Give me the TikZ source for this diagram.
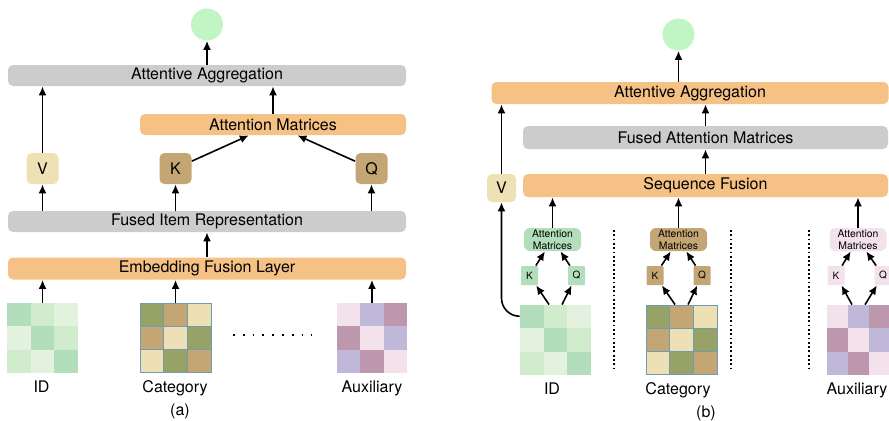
\documentclass[tikz,border=0pt]{standalone}
\usepackage{fontspec}
\setmainfont{TeX Gyre Heros}
\usetikzlibrary{arrows.meta,fit}
\definecolor{outGreen}{HTML}{C1F5C3}
\definecolor{barGray}{HTML}{CCCCCC}
\definecolor{barOrange}{HTML}{F5C184}
\definecolor{vCream}{HTML}{EEE1B6}
\definecolor{idDark}{HTML}{B3DEBB}
\definecolor{idMid}{HTML}{D1EBCD}
\definecolor{idLight}{HTML}{E3F2DF}
\definecolor{catOlive}{HTML}{97A366}
\definecolor{catTan}{HTML}{C3A673}
\definecolor{catCream}{HTML}{EDE0B4}
\definecolor{catEdge}{HTML}{6F9BB5}
\definecolor{auxPink}{HTML}{F3E1EC}
\definecolor{auxLav}{HTML}{BFB8D9}
\definecolor{auxMauve}{HTML}{BD97AE}
\tikzset{
  bar/.style = {rectangle, rounded corners=2.5pt, minimum height=10.5pt,
    inner sep=0pt, font=\fontsize{8}{9}\selectfont},
  graybar/.style = {bar, fill=barGray},
  orangebar/.style = {bar, fill=barOrange},
  vecbox/.style = {rectangle, rounded corners=2.5pt, minimum width=16pt,
    minimum height=15.5pt, inner sep=0pt, font=\fontsize{8}{9}\selectfont},
  tinybox/.style = {rectangle, rounded corners=0.5pt, minimum width=8.5pt,
    minimum height=9.5pt, inner sep=0pt, font=\fontsize{5}{6}\selectfont},
  attbox/.style = {rectangle, rounded corners=3pt, minimum width=28.5pt,
    minimum height=11.5pt, inner sep=0pt, align=center,
    font=\fontsize{5.2}{6}\selectfont},
  outnode/.style = {circle, fill=outGreen, minimum size=16pt, inner sep=0pt},
  lbl/.style = {anchor=base, inner sep=0pt, font=\fontsize{8}{9}\selectfont},
  arr/.style = {-{Latex[length=4.5pt,width=4pt]}, line width=0.8pt},
  dotsh/.style = {line width=1pt, dash pattern=on 0.9pt off 4pt},
  dotsv/.style = {line width=0.9pt, dash pattern=on 0.9pt off 1.25pt}
}
% name, left, top, cell width, cell height, edge, colours
\newcommand{\cellgrid}[7]{
  \foreach \c [count=\i from 0] in {#7}{
    \pgfmathtruncatemacro{\gc}{mod(\i,3)}
    \pgfmathtruncatemacro{\gr}{floor(\i/3)}
    \path[fill=\c, #6] ({#2+\gc*#4},{#3+\gr*#5}) rectangle ++(#4,#5);
  }
  \path (#2,#3) coordinate (#1-nw) ++({3*#4},{3*#5}) coordinate (#1-se);
  \node[fit=(#1-nw)(#1-se), inner sep=0pt] (#1) {};
}

\begin{document}
\begin{tikzpicture}[x=0.5pt, y=-0.5pt]
\useasboundingbox (0,0) rectangle (889,420);
\clip (0,0) rectangle (889,420);

% (a)
\node[outnode] (outA) at (207,24.5) {};
\node[graybar, minimum width=199pt] (aggA) at (207,75.5) {Attentive Aggregation};
\node[orangebar, minimum width=133pt] (attA) at (273,124.5) {Attention Matrices};
\node[vecbox, fill=vCream] (vA) at (42.5,168.5) {V};
\node[vecbox, fill=catTan] (kA) at (175.5,168.5) {K};
\node[vecbox, fill=catTan] (qA) at (371.5,168.5) {Q};
\node[graybar, minimum width=199pt] (firA) at (207,221.5) {Fused Item Representation};
\node[orangebar, minimum width=199pt, minimum height=11pt] (eflA) at (207,268.5) {Embedding Fusion Layer};
\cellgrid{idA}{7}{303}{23.7}{23.3}{}{idDark,idMid,idLight,idLight,idDark,idMid,idMid,idLight,idDark}
\cellgrid{catA}{140}{303}{23.7}{23.3}{draw=catEdge, line width=0.5pt}{catOlive,catTan,catCream,catTan,catCream,catOlive,catCream,catOlive,catTan}
\cellgrid{auxA}{337}{303}{23.3}{23.3}{}{auxPink,auxLav,auxMauve,auxMauve,auxPink,auxLav,auxLav,auxMauve,auxPink}
\node[lbl] (idlabA) at (41.5,392) {ID};
\node[lbl] (catlabA) at (175,392) {Category};
\node[lbl] (auxlabA) at (372,392) {Auxiliary};
\node[lbl] (capA) at (180,415) {(a)};
\draw[dotsh] (233,335) -- (312,335);

\draw[arr] (aggA) -- (outA);
\draw[arr] (vA) -- (vA |- aggA.south);
\draw[arr] (attA) -- (attA |- aggA.south);
\draw[arr] (kA) -- (attA);
\draw[arr] (qA) -- (attA);
\foreach \n in {vA,kA,qA}
  \draw[arr] (\n |- firA.north) -- (\n);
\draw[arr] (eflA) -- (firA);
\foreach \n in {idA,catA,auxA}
  \draw[arr] (\n) -- (\n |- eflA.south);

% (b)
\node[outnode] (outB) at (678.5,34.5) {};
\node[orangebar, minimum width=198.5pt, minimum height=11pt] (aggB) at (690,93) {Attentive Aggregation};
\node[graybar, minimum width=182.5pt, minimum height=11.5pt] (famB) at (705.5,137.5) {Fused Attention Matrices};
\node[orangebar, minimum width=182.5pt, minimum height=11.5pt] (sfB) at (705.5,185.5) {Sequence Fusion};
\node[vecbox, fill=vCream, minimum width=14.5pt, minimum height=14pt] (vB) at (501.5,188) {V};

\node[attbox, fill=idDark] (att-id) at (552.5,239.5) {Attention\\Matrices};
\node[tinybox, fill=idDark] (k-id) at (529.5,275.5) {K};
\node[tinybox, fill=idDark] (q-id) at (576.5,275.5) {Q};
\node[attbox, fill=catTan] (att-cat) at (678.5,239.5) {Attention\\Matrices};
\node[tinybox, fill=catTan] (k-cat) at (655,275.5) {K};
\node[tinybox, fill=catTan] (q-cat) at (702,275.5) {Q};
\node[attbox, fill=auxPink] (att-aux) at (858,239.5) {Attention\\Matrices};
\node[tinybox, fill=auxPink] (k-aux) at (836,275.5) {K};
\node[tinybox, fill=auxPink] (q-aux) at (883,275.5) {Q};

\cellgrid{grid-id}{520}{305}{23.7}{23.3}{}{idDark,idMid,idLight,idLight,idDark,idMid,idMid,idLight,idDark}
\cellgrid{grid-cat}{646}{305}{23.7}{23.3}{draw=catEdge, line width=0.5pt}{catOlive,catTan,catCream,catTan,catCream,catOlive,catCream,catOlive,catTan}
\cellgrid{grid-aux}{827}{305}{21}{23.3}{}{auxPink,auxLav,auxMauve,auxMauve,auxPink,auxLav,auxLav,auxMauve,auxPink}
\node[lbl] (idlabB) at (552,394) {ID};
\node[lbl] (catlabB) at (678,394) {Category};
\node[lbl] (auxlabB) at (857,394) {Auxiliary};
\node[lbl] (capB) at (706,417) {(b)};
\foreach \x in {614,731,809}
  \draw[dotsv] (\x,230) -- (\x,368);

\draw[arr] (outB |- aggB.north) -- (outB);
\draw[arr] (famB) -- (famB |- aggB.south);
\draw[arr] (sfB) -- (famB);
\draw[arr] (vB) -- (vB |- aggB.south);
\foreach \g in {id,cat,aux}{
  \draw[arr] (att-\g) -- (att-\g |- sfB.south);
  \draw[arr] (k-\g) -- (att-\g);
  \draw[arr] (q-\g) -- (att-\g);
  \draw[arr] ([xshift=-3.25pt]grid-\g.north) -- (k-\g);
  \draw[arr] ([xshift=3.25pt]grid-\g.north) -- (q-\g);
}
\coordinate (vstart) at ([yshift=-5.8pt]grid-id.north west);
\draw[arr, rounded corners=9pt] (vstart) -| (vB);
\end{tikzpicture}
\end{document}
